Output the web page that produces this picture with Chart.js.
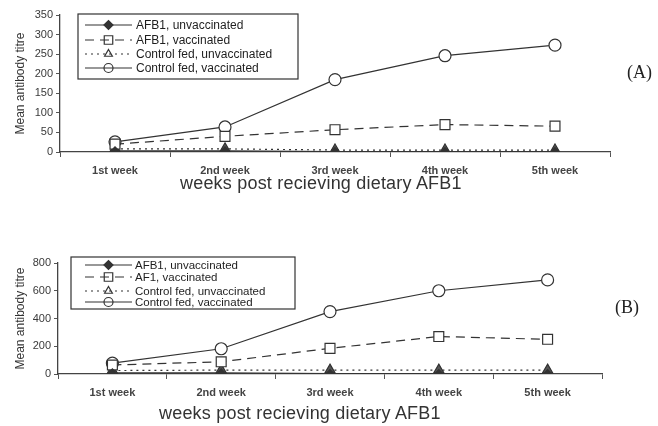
<!DOCTYPE html>
<html>
<head>
<meta charset="utf-8">
<script src="https://cdn.jsdelivr.net/npm/chart.js@4.4.0/dist/chart.umd.min.js"></script>
<style>
    html, body { margin: 0; padding: 0; background: #fff; }
    body { width: 658px; height: 426px; position: relative; overflow: hidden; font-family: "Liberation Sans", Arial, sans-serif; }
    canvas { position: absolute; left: 0; }
    #chartA { top: 0; }
    #chartB { top: 215px; }
    .xtitle { position: absolute; font-size: 18px; line-height: 20px; color: #333; white-space: nowrap; letter-spacing: 0.2px; }
    .tag { position: absolute; font-family: "Liberation Serif", "Times New Roman", serif; font-size: 18px; line-height: 20px; color: #222; }
</style>
</head>
<body>
<canvas id="chartA" width="658" height="200"></canvas>
<canvas id="chartB" width="658" height="211"></canvas>
<div class="xtitle" style="left:180px; top:173px;">weeks post recieving dietary AFB1</div>
<div class="xtitle" style="left:159px; top:403px;">weeks post recieving dietary AFB1</div>
<div class="tag" style="left:627px; top:62px;">(A)</div>
<div class="tag" style="left:615px; top:297px;">(B)</div>
<script>
// Categories and series
const weeks = ['1st week', '2nd week', '3rd week', '4th week', '5th week'];
const namesA = ['AFB1, unvaccinated', 'AFB1, vaccinated', 'Control fed, unvaccinated', 'Control fed, vaccinated'];
const namesB = ['AFB1, unvaccinated', 'AF1, vaccinated', 'Control fed, unvaccinated', 'Control fed, vaccinated'];

// Panel (A)
const afb1UnvaccA = [3, 3, 1, 1, 1];
const afb1VaccA = [20, 40, 57, 70, 66];
const controlUnvaccA = [8, 8, 5, 5, 5];
const controlVaccA = [26, 64, 185, 246, 273];
const yTicksA = [0, 50, 100, 150, 200, 250, 300, 350];

// Panel (B)
const afb1UnvaccB = [8, 8, 3, 3, 3];
const afb1VaccB = [65, 88, 185, 270, 250];
const controlUnvaccB = [25, 28, 28, 28, 28];
const controlVaccB = [78, 182, 450, 600, 678];
const yTicksB = [0, 200, 400, 600, 800];

const ink = '#333';

// Draws the boxed legend that sits inside the plot
const boxLegend = {
    id: 'boxLegend',
    afterDraw(chart, args, opts) {
        const ctx = chart.ctx;
        ctx.save();
        ctx.fillStyle = '#fff';
        ctx.fillRect(opts.x, opts.y, opts.w, opts.h);
        ctx.strokeStyle = '#333';
        ctx.lineWidth = 1.2;
        ctx.strokeRect(opts.x, opts.y, opts.w, opts.h);
        chart.data.datasets.forEach(function(ds, i) {
            const y = opts.rows[i];
            ctx.setLineDash(ds.borderDash || []);
            ctx.strokeStyle = ink;
            ctx.lineWidth = 1.2;
            ctx.beginPath();
            ctx.moveTo(opts.lineX1, y);
            ctx.lineTo(opts.lineX2, y);
            ctx.stroke();
            ctx.setLineDash([]);
            ctx.fillStyle = i === 0 ? ink : 'rgba(0,0,0,0)';
            const r = ds.pointStyle === 'rect' ? 6 : 4.5;
            Chart.helpers.drawPoint(ctx, { pointStyle: ds.pointStyle, rotation: 0, radius: r, borderWidth: 1.2 }, (opts.lineX1 + opts.lineX2) / 2, y);
            ctx.fillStyle = '#1e1e1e';
            ctx.font = opts.fontSize + 'px "Liberation Sans", Arial, sans-serif';
            ctx.textBaseline = 'middle';
            ctx.fillText(ds.label, opts.textX, y + 0.5);
        });
        ctx.restore();
    }
};

function makeDatasets(names, afb1Unvacc, afb1Vacc, controlUnvacc, controlVacc) {
    return [
        { label: names[0], data: afb1Unvacc, pointStyle: 'rectRot', pointRadius: 4, backgroundColor: ink, borderColor: ink, borderWidth: 1.2 },
        { label: names[1], data: afb1Vacc, pointStyle: 'rect', pointRadius: 7, backgroundColor: '#fff', borderColor: ink, borderWidth: 1.2, borderDash: [9, 6] },
        { label: names[2], data: controlUnvacc, pointStyle: 'triangle', pointRadius: 6, backgroundColor: '#555', borderColor: ink, borderWidth: 1.2, borderDash: [2, 4] },
        { label: names[3], data: controlVacc, pointStyle: 'circle', pointRadius: 6, backgroundColor: '#fff', borderColor: ink, borderWidth: 1.2 }
    ];
}

function makeChart(id, datasets, yTicks, area, legend) {
    const ctx = document.getElementById(id).getContext('2d');
    return new Chart(ctx, {
        type: 'line',
        data: { labels: weeks, datasets: datasets },
        options: {
            responsive: false,
            animation: false,
            layout: { padding: { top: area.top, right: area.right, left: 0, bottom: 0 } },
            elements: { line: { tension: 0, fill: false } },
            plugins: {
                legend: { display: false },
                tooltip: { enabled: false },
                boxLegend: legend
            },
            scales: {
                x: {
                    offset: true,
                    afterFit: function(scale) { scale.height = area.xHeight; },
                    grid: { drawOnChartArea: false, offset: true, tickLength: 5, color: '#555', lineWidth: 1 },
                    border: { color: '#444', width: 1.3 },
                    ticks: { color: '#444', padding: 7, font: { family: '"Liberation Sans", Arial, sans-serif', size: 11, weight: 'bold' } }
                },
                y: {
                    min: 0,
                    max: yTicks[yTicks.length - 1],
                    afterFit: function(scale) { scale.width = area.yWidth; },
                    afterBuildTicks: function(scale) { scale.ticks = yTicks.map(v => ({ value: v })); },
                    grid: { drawOnChartArea: false, tickLength: 4, color: '#555' },
                    border: { color: '#444', width: 1.3 },
                    ticks: { color: '#3a3a3a', padding: 3, font: { family: '"Liberation Sans", Arial, sans-serif', size: 11 } },
                    title: { display: true, text: 'Mean antibody titre', color: '#333', padding: { top: 13, bottom: 0 }, font: { family: '"Liberation Sans", Arial, sans-serif', size: 12 } }
                }
            }
        },
        plugins: [boxLegend]
    });
}

makeChart('chartA',
    makeDatasets(namesA, afb1UnvaccA, afb1VaccA, controlUnvaccA, controlVaccA),
    yTicksA,
    { top: 15, right: 48, xHeight: 48, yWidth: 60 },
    { x: 78, y: 14, w: 220, h: 65, rows: [25, 40, 54, 68], lineX1: 85, lineX2: 132, textX: 136, fontSize: 12 });

makeChart('chartB',
    makeDatasets(namesB, afb1UnvaccB, afb1VaccB, controlUnvaccB, controlVaccB),
    yTicksB,
    { top: 48, right: 56, xHeight: 52, yWidth: 58 },
    { x: 71, y: 42, w: 224, h: 52, rows: [50, 62, 76, 87], lineX1: 85, lineX2: 132, textX: 135, fontSize: 11.5 });
</script>
</body>
</html>
